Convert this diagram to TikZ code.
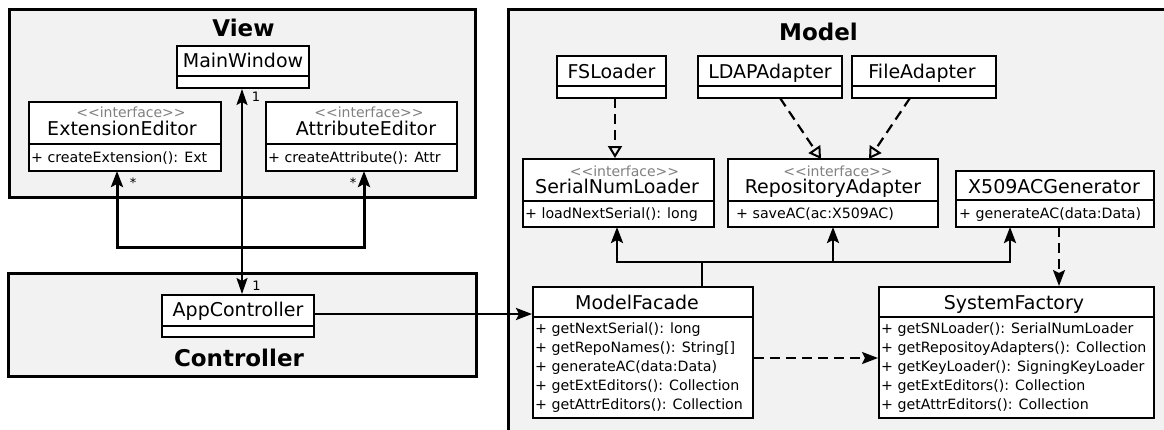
\documentclass[tikz,border=0pt]{standalone}
\usepackage{fontspec}
\setmainfont{DejaVu Sans}
\usetikzlibrary{arrows.meta,fit}
\definecolor{framefill}{RGB}{242,242,242}
\definecolor{stereo}{RGB}{128,128,128}
\newcommand{\umlbox}[6]{%
  \coordinate (#1-nw) at (#2,#3);
  \coordinate (#1-se) at (#4,#5);
  \node[classbox, fit=(#1-nw)(#1-se)] (#1) {};
  \draw[divider] (#2,#6) -- (#4,#6);
}
\newcommand{\stlabel}{<\kern0pt<interface>\kern0pt>}
\begin{document}
\begin{tikzpicture}[x=1pt,y=-1pt,
  frame/.style={draw=black, line width=3pt, fill=framefill},
  classbox/.style={draw=black, line width=2pt, fill=white, inner sep=0pt},
  divider/.style={draw=black, line width=2pt},
  cname/.style={font=\fontsize{19}{19}\selectfont, anchor=base, inner sep=0pt},
  stype/.style={font=\fontsize{14}{14}\selectfont, text=stereo, anchor=base, inner sep=0pt},
  meth/.style={font=\fontsize{14.2}{14.2}\selectfont, anchor=base west, inner sep=0pt},
  ftitle/.style={font=\fontsize{23}{23}\selectfont\bfseries, anchor=base, inner sep=0pt},
  mult/.style={font=\fontsize{13}{13}\selectfont, inner sep=0pt},
  head/.style={-{Stealth[length=16pt,width=12pt,inset=3pt]}},
  assoc/.style={line width=2.5pt, head},
  biassoc/.style={line width=2pt, {Stealth[length=16pt,width=11pt,inset=3pt]}-{Stealth[length=16pt,width=11pt,inset=3pt]}},
  dep/.style={line width=2.2pt, dash pattern=on 10pt off 6pt, head},
  realize/.style={line width=2.2pt, dash pattern=on 10pt off 6pt, -{Triangle[open,length=12pt,width=14pt,line width=2pt]}}
]
\useasboundingbox (0,0) rectangle (1164,429);
\clip (0,0) rectangle (1164,429);

% ---------- frames ----------
\draw[frame] (9,9) rectangle (475,197);
\node[ftitle] (tview) at (243.5,36) {View};
\draw[frame] (8,273) rectangle (476,376);
\node[ftitle] (tctrl) at (239,366.5) {Controller};
\draw[frame] (508,9) rectangle (1180,445);
\node[ftitle] (tmodel) at (818.5,40.5) {Model};

% ---------- View ----------
\umlbox{mw}{177}{46}{309}{88}{76}
\node[cname] (mwn) at (243,67.5) {MainWindow};

\umlbox{ee}{29}{102}{221}{171}{144}
\node[stype] (ees) at (131,117.5) {\stlabel};
\node[cname] (een) at (122,135.5) {ExtensionEditor};
\node[meth] (eem) at (31,162) {+ createExtension(): Ext};

\umlbox{ae}{266}{102}{457}{171}{144}
\node[stype] (aes) at (369,117.5) {\stlabel};
\node[cname] (aen) at (366,135.5) {AttributeEditor};
\node[meth] (aem) at (268,162) {+ createAttribute(): Attr};

% ---------- Controller ----------
\umlbox{ac}{162}{295}{314}{337}{326}
\node[cname] (acn) at (238,316) {AppController};

% ---------- Model ----------
\umlbox{fs}{557}{56}{666}{98}{86}
\node[cname] (fsn) at (611.5,78.5) {FSLoader};
\umlbox{ld}{698}{56}{842}{98}{86}
\node[cname] (ldn) at (770,78.5) {LDAPAdapter};
\umlbox{fa}{852}{56}{996}{98}{86}
\node[cname] (fan) at (922,78.5) {FileAdapter};

\umlbox{snl}{523}{159}{714}{227}{201}
\node[stype] (snls) at (624.5,176) {\stlabel};
\node[cname] (snln) at (617,193.5) {SerialNumLoader};
\node[meth] (snlm) at (525,218) {+ loadNextSerial(): long};

\umlbox{ra}{728}{159}{938}{227}{201}
\node[stype] (ras) at (838,176) {\stlabel};
\node[cname] (ran) at (833,193.5) {RepositoryAdapter};
\node[meth] (ram) at (736,218) {+ saveAC(ac:X509AC)};

\umlbox{xg}{956}{171}{1154}{227}{200}
\node[cname] (xgn) at (1054,193.5) {X509ACGenerator};
\node[meth] (xgm) at (959,218) {+ generateAC(data:Data)};

\umlbox{mf}{533}{287}{753}{418}{317}
\node[cname] (mfn) at (637,309) {ModelFacade};
\node[meth] (mf1) at (535,333.5) {+ getNextSerial(): long};
\node[meth] (mf2) at (535,352.5) {+ getRepoNames(): String[]};
\node[meth] (mf3) at (535,371.5) {+ generateAC(data:Data)};
\node[meth] (mf4) at (535,390.5) {+ getExtEditors(): Collection};
\node[meth] (mf5) at (535,409.5) {+ getAttrEditors(): Collection};

\umlbox{sf}{879}{287}{1154}{418}{317}
\node[cname] (sfn) at (1014,309) {SystemFactory};
\node[meth] (sf1) at (881,333.5) {+ getSNLoader(): SerialNumLoader};
\node[meth] (sf2) at (881,352.5) {+ getRepositoyAdapters(): Collection};
\node[meth] (sf3) at (881,371.5) {+ getKeyLoader(): SigningKeyLoader};
\node[meth] (sf4) at (881,390.5) {+ getExtEditors(): Collection};
\node[meth] (sf5) at (881,409.5) {+ getAttrEditors(): Collection};

% ---------- connector points ----------
\coordinate (j) at (242,247);
\coordinate (ee-p) at (117,171);
\coordinate (ae-p) at (364,171);
\coordinate (cy) at (0,314);
\coordinate (dy) at (0,358);
\coordinate (t) at (702,262);
\coordinate (snl-p) at (617,227);
\coordinate (ra-p) at (833,227);
\coordinate (xg-p) at (1010,227);
\coordinate (xg-d) at (1059,227);
\coordinate (fs-o) at (615,98);
\coordinate (ld-o) at (780,98);
\coordinate (ra-i1) at (821,159);
\coordinate (fa-o) at (910,98);
\coordinate (ra-i2) at (869,159);

% ---------- connectors ----------
\draw[biassoc] (j |- mw.south) -- (j |- ac.north);
\draw[assoc, line width=3pt] (j) -| (ee-p);
\draw[assoc, line width=3pt] (j) -| (ae-p);
\node[mult] (m1) at (256,97) {1};
\node[mult] (m2) at (256.5,286) {1};
\node[mult] (m3) at (133,183) {*};
\node[mult] (m4) at (353,183) {*};

\draw[assoc] (ac.east |- cy) -- (mf.west |- cy);

\draw[assoc] (t |- mf.north) -- (t) -| (snl-p);
\draw[assoc] (t) -| (ra-p);
\draw[assoc] (t) -| (xg-p);

\draw[dep] (xg-d) -- (xg-d |- sf.north);
\draw[dep] (mf.east |- dy) -- (sf.west |- dy);

\draw[realize] (fs-o) -- (fs-o |- snl.north);
\draw[realize] (ld-o) -- (ra-i1);
\draw[realize] (fa-o) -- (ra-i2);
\end{tikzpicture}
\end{document}
